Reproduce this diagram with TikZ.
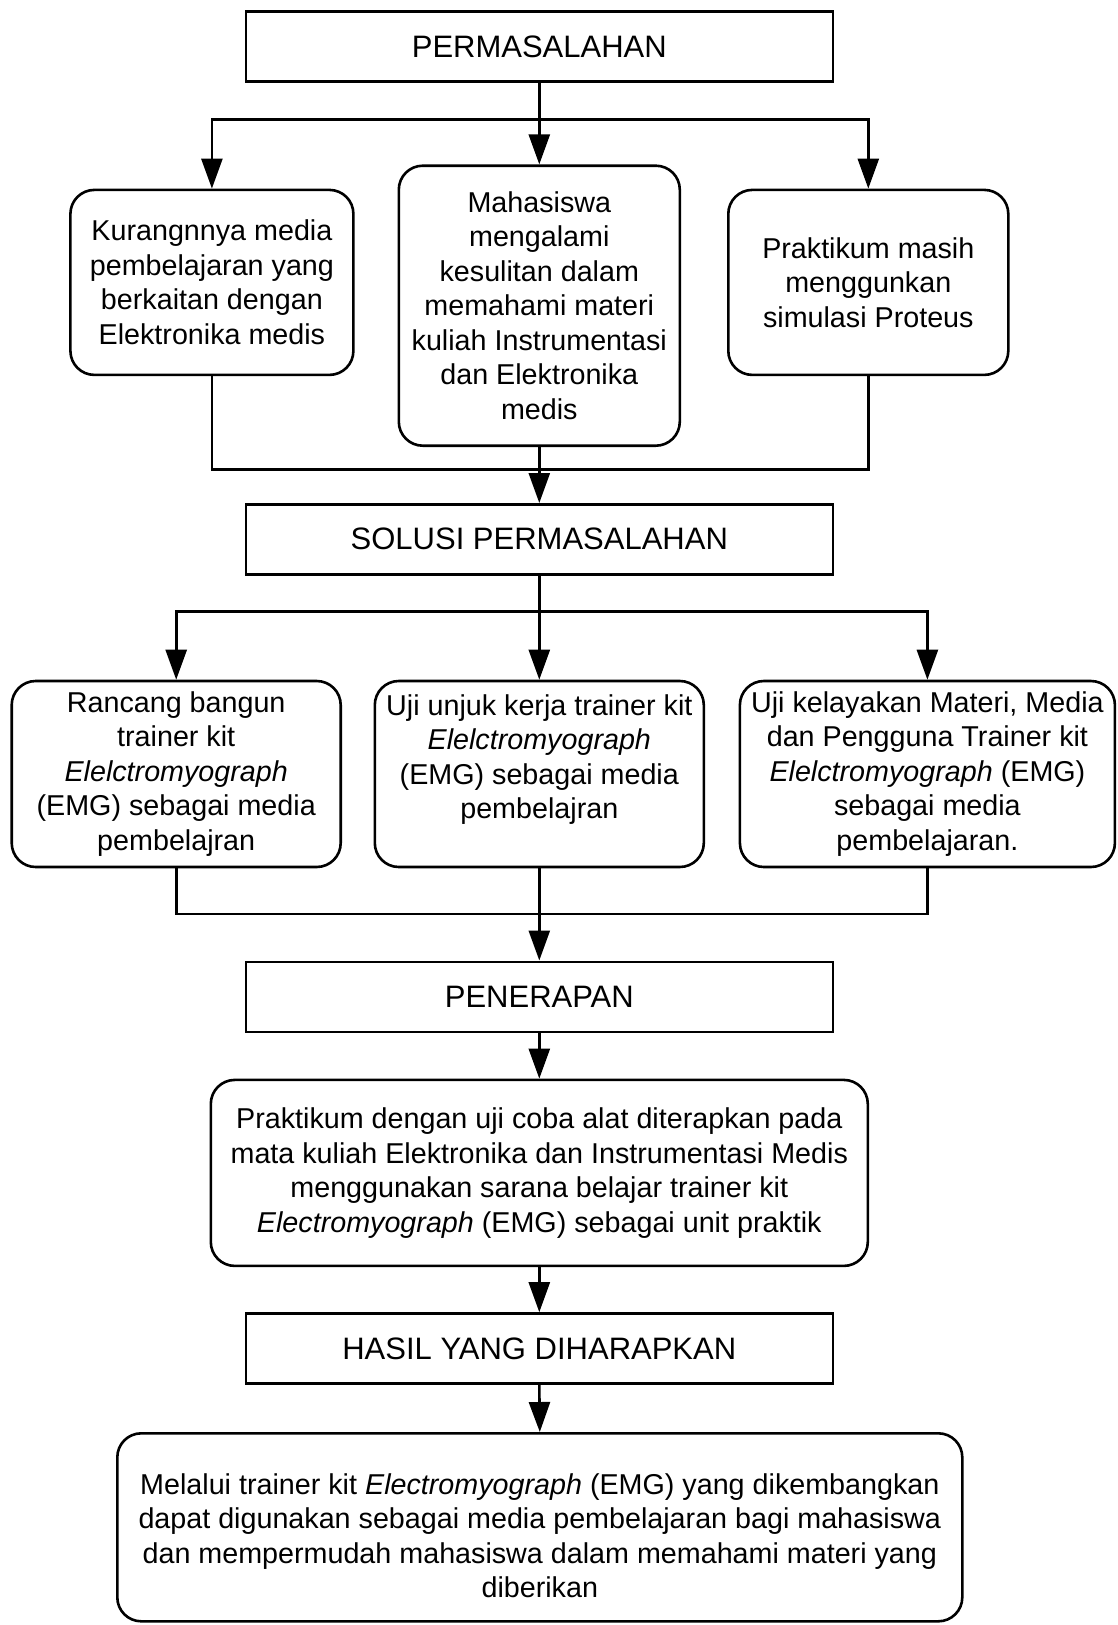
\documentclass[tikz,border=0pt]{standalone}
\usepackage{fontspec}
\setmainfont{Liberation Sans}
\usetikzlibrary{arrows.meta}

\tikzset{
  judul/.style={draw, line width=2.6pt, minimum width=587pt, minimum height=70pt,
    font=\fontsize{31}{37}\selectfont},
  isi/.style={draw, line width=2.6pt, rounded corners=24pt, align=center,
    font=\fontsize{28.7}{34.5}\selectfont},
  garis/.style={line width=2.6pt},
  panah/.style={line width=2.6pt, -{Triangle[length=30pt,width=21pt]}}
}

\begin{document}
\begin{tikzpicture}[x=1pt, y=-1pt]
\useasboundingbox (0,0) rectangle (1118,1625);

% draw boxes
	\node[judul] (masalah) at (539.3,46.6) {PERMASALAHAN};
	\node[isi, minimum width=283pt, minimum height=185pt] (kurang) at (211.9,282.4)
		{Kurangnnya media\\pembelajaran yang\\berkaitan dengan\\Elektronika medis};
	\node[isi, minimum width=281pt, minimum height=280pt] (sulit) at (539.3,305.7)
		{Mahasiswa\\mengalami\\kesulitan dalam\\memahami materi\\kuliah Instrumentasi\\dan Elektronika\\medis};
	\node[isi, minimum width=280pt, minimum height=185pt] (proteus) at (868.3,282.4)
		{Praktikum masih\\menggunkan\\simulasi Proteus};

	\node[judul] (solusi) at (539.3,539.3) {SOLUSI PERMASALAHAN};
	\node[isi, minimum width=329pt, minimum height=186pt] (rancang) at (176.2,774)
		{Rancang bangun\\trainer kit\\\textit{Elelctromyograph}\\(EMG) sebagai media\\pembelajran};
	\node[isi, minimum width=329pt, minimum height=186pt] (unjuk) at (539.3,774)
		{Uji unjuk kerja trainer kit\\\textit{Elelctromyograph}\\(EMG) sebagai media\\pembelajran\\~};
	\node[isi, minimum width=375pt, minimum height=186pt] (layak) at (927.4,774)
		{Uji kelayakan Materi, Media\\dan Pengguna Trainer kit\\\textit{Elelctromyograph} (EMG)\\sebagai media\\pembelajaran.};

	\node[judul] (terap) at (539.3,996.8) {PENERAPAN};
	\node[isi, minimum width=657pt, minimum height=186pt] (praktik) at (539.3,1172.9)
		{Praktikum dengan uji coba alat diterapkan pada\\mata kuliah Elektronika dan Instrumentasi Medis\\menggunakan sarana belajar trainer kit\\\textit{Electromyograph} (EMG) sebagai unit praktik};

	\node[judul] (hasil) at (539.3,1348.5) {HASIL YANG DIHARAPKAN};
	\node[isi, minimum width=845pt, minimum height=188pt] (harap) at (539.8,1527.3)
		{\rule{0pt}{38pt}Melalui trainer kit \textit{Electromyograph} (EMG) yang dikembangkan\\dapat digunakan sebagai media pembelajaran bagi mahasiswa\\dan mempermudah mahasiswa dalam memahami materi yang\\diberikan};

% draw branch and join points
	\coordinate (cabang1) at (539.3,119.2);
	\coordinate (gabung1) at (539.3,469.4);
	\coordinate (cabang2) at (539.3,611.3);
	\coordinate (gabung2) at (539.3,913.8);

% draw connectors
	\draw[garis] (masalah.south) -- (cabang1);
	\draw[panah] (cabang1) -| (kurang.north);
	\draw[panah] (cabang1) -| (proteus.north);
	\draw[panah] (cabang1) -- (sulit.north);
	\draw[garis] (kurang.south) |- (gabung1);
	\draw[garis] (proteus.south) |- (gabung1);
	\draw[panah] (sulit.south) -- (solusi.north);

	\draw[garis] (solusi.south) -- (cabang2);
	\draw[panah] (cabang2) -| (rancang.north);
	\draw[panah] (cabang2) -| (layak.north);
	\draw[panah] (cabang2) -- (unjuk.north);
	\draw[garis] (rancang.south) |- (gabung2);
	\draw[garis] (layak.south) |- (gabung2);
	\draw[panah] (unjuk.south) -- (terap.north);

	\draw[panah] (terap.south) -- (praktik.north);
	\draw[panah] (praktik.south) -- (hasil.north);
	\draw[panah] (hasil.south) -- (harap.north);
\end{tikzpicture}
\end{document}
